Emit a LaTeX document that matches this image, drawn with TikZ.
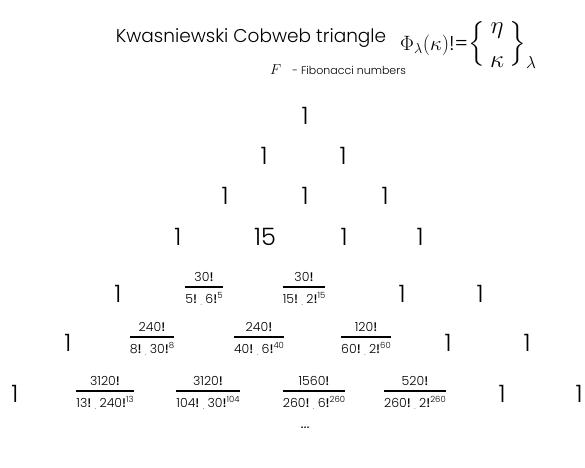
\documentclass[tikz,border=0pt]{standalone}
\usepackage{amsmath}
\usepackage{fontspec}
\setmainfont{Poppins Light}[BoldFont={Poppins Medium}]
\newcommand{\fct}{\textbf{!}}
\newcommand{\dotsep}{\;\raisebox{-2pt}{\scriptsize.}\;}
\newcommand{\ex}[1]{\raisebox{0.42em}{\fontsize{8.5}{10}\selectfont #1}}
\newcommand{\cwfrac}[2]{$\genfrac{}{}{1.4pt}{0}{\text{#1}}{\text{#2}}$}
\begin{document}
\begin{tikzpicture}[x=1pt,y=-1pt,
    one/.style={anchor=base, inner sep=0pt, font=\fontsize{24}{28}\selectfont},
    frc/.style={anchor=base, inner sep=0pt, font=\fontsize{12.5}{15}\selectfont}]
    \useasboundingbox (0,0) rectangle (585,467);
    % naglowek
    \node[anchor=base, inner sep=0pt, font=\fontsize{18.5}{22}\selectfont] (title) at (251,42) {Kwasniewski Cobweb triangle};
    \node[anchor=west, inner sep=0pt, font=\fontsize{24}{27}\selectfont] (phi) at (400,45) {{\fontsize{20}{22}\selectfont$\Phi_{\lambda}(\kappa)$!=}$\left\{\,\genfrac{}{}{0pt}{0}{\eta}{\kappa}\,\right\}_{\lambda}$};
    \node[anchor=base west, inner sep=0pt, font=\fontsize{11}{13}\selectfont] (fib) at (270,74) {{\fontsize{14}{16}\selectfont$F$}\quad - Fibonacci numbers};
    % wiersze 1--4
    \node[one] (a1) at (305,124) {1};
    \node[one] (b1) at (264,164) {1};
    \node[one] (b2) at (343,164) {1};
    \node[one] (c1) at (225,204) {1};
    \node[one] (c2) at (305,204) {1};
    \node[one] (c3) at (385,204) {1};
    \node[one] (d1) at (178,245) {1};
    \node[one] (d2) at (265,245) {15};
    \node[one] (d3) at (344,245) {1};
    \node[one] (d4) at (420,245) {1};
    % wiersz 5
    \node[one] (e1) at (118,302) {1};
    \node[frc] (e2) at (204,290) {\cwfrac{30\fct}{5\fct\dotsep 6\fct\ex{5}}};
    \node[frc] (e3) at (304,290) {\cwfrac{30\fct}{15\fct\dotsep 2\fct\ex{15}}};
    \node[one] (e4) at (402,302) {1};
    \node[one] (e5) at (480,302) {1};
    % wiersz 6
    \node[one] (f1) at (68,351) {1};
    \node[frc] (f2) at (152,340) {\cwfrac{240\fct}{8\fct\dotsep 30\fct\ex{8}}};
    \node[frc] (f3) at (259,340) {\cwfrac{240\fct}{40\fct\dotsep 6\fct\ex{40}}};
    \node[frc] (f4) at (366,340) {\cwfrac{120\fct}{60\fct\dotsep 2\fct\ex{60}}};
    \node[one] (f5) at (448,351) {1};
    \node[one] (f6) at (527,351) {1};
    % wiersz 7
    \node[one] (g1) at (15,402) {1};
    \node[frc] (g2) at (105,394) {\cwfrac{3120\fct}{13\fct\dotsep 240\fct\ex{13}}};
    \node[frc] (g3) at (208,394) {\cwfrac{3120\fct}{104\fct\dotsep 30\fct\ex{104}}};
    \node[frc] (g4) at (314,394) {\cwfrac{1560\fct}{260\fct\dotsep 6\fct\ex{260}}};
    \node[frc] (g5) at (415,394) {\cwfrac{520\fct}{260\fct\dotsep 2\fct\ex{260}}};
    \node[one] (g6) at (502,402) {1};
    \node[one] (g7) at (579,402) {1};
    % dalej
    \node[inner sep=0pt, font=\fontsize{17}{19}\selectfont] (more) at (305,428) {\ldots};
\end{tikzpicture}
\end{document}
